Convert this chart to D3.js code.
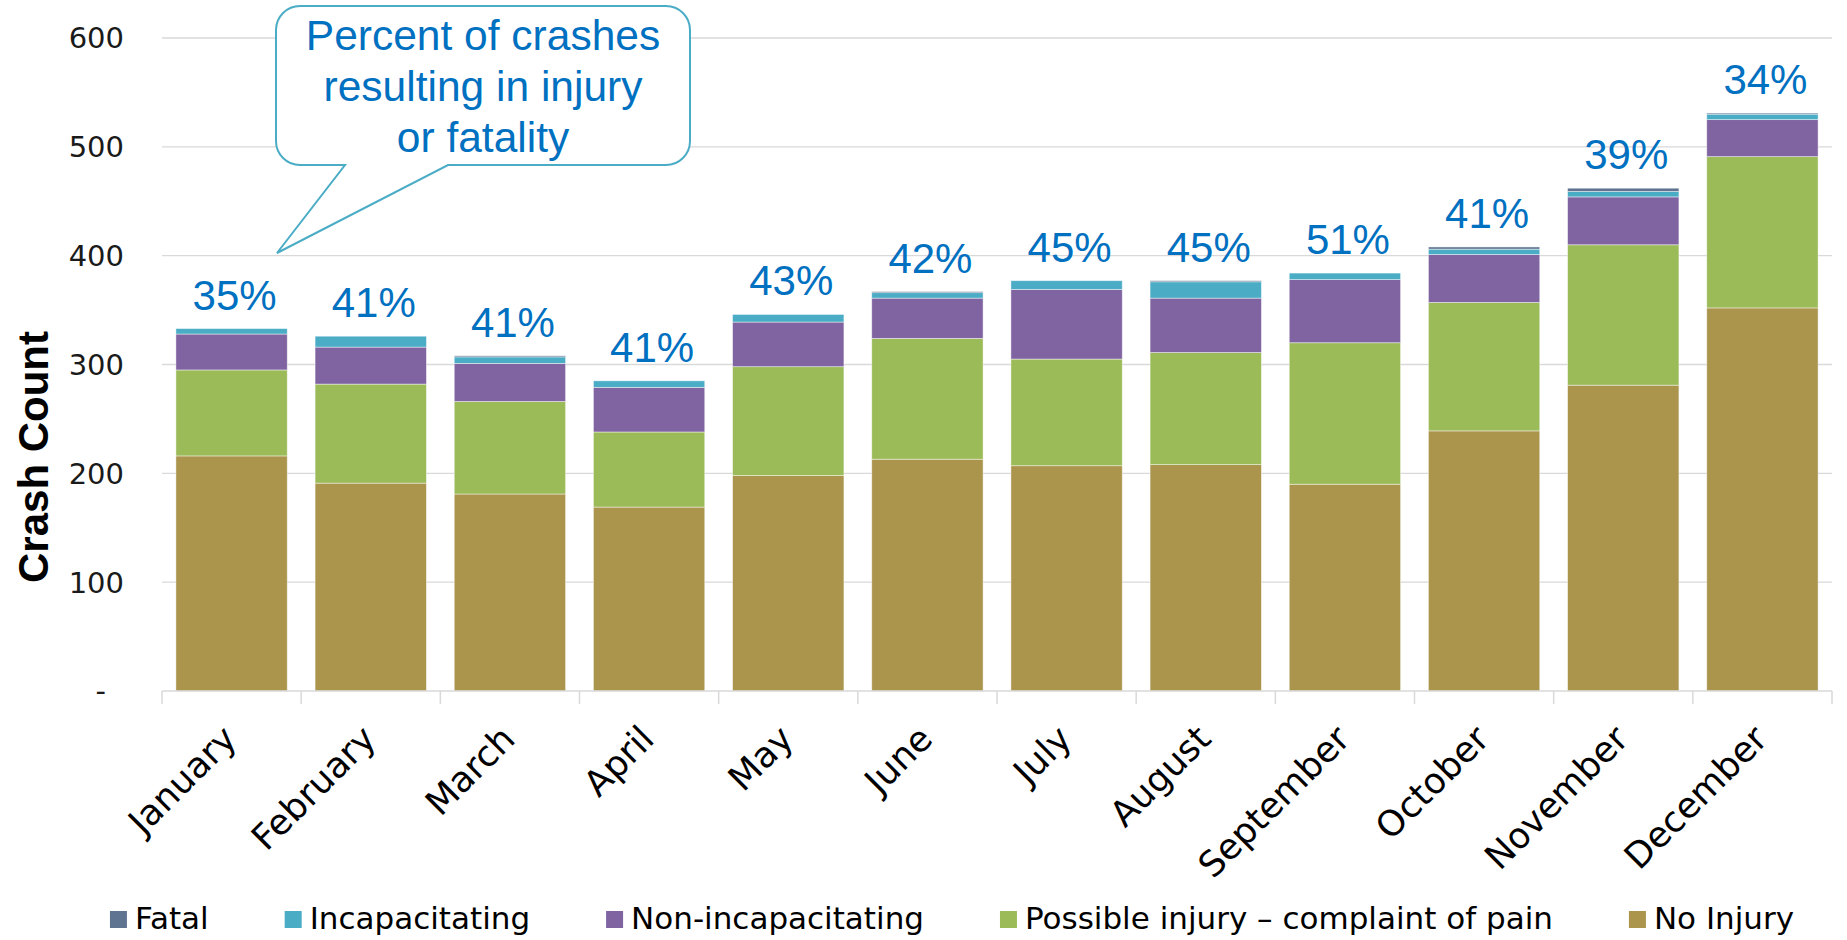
<!DOCTYPE html>
<html>
<head>
<meta charset="utf-8">
<script src="https://cdn.jsdelivr.net/npm/d3@7"></script>
<style>
  html, body { margin: 0; padding: 0; background: #ffffff; }
  svg { display: block; }
</style>
</head>
<body>
<svg id="chart" width="1847" height="940"></svg>
<script>
// Monthly crash counts by severity
const months = ["January", "February", "March", "April", "May", "June",
                "July", "August", "September", "October", "November", "December"];
const fatal             = [0, 0, 1, 0, 0, 1, 0, 1, 0, 2, 3, 1];
const incapacitating    = [5, 10, 6, 6, 7, 5, 8, 15, 6, 5, 5, 5];
const nonIncapacitating = [33, 34, 35, 41, 41, 37, 64, 50, 58, 44, 44, 34];
const possibleInjury    = [79, 91, 85, 69, 100, 111, 98, 103, 130, 118, 129, 139];
const noInjury          = [216, 191, 181, 169, 198, 213, 207, 208, 190, 239, 281, 352];

const yTickValues = [0, 100, 200, 300, 400, 500, 600];
const yTickLabels = ["-", "100", "200", "300", "400", "500", "600"];

const seriesNames = ["Fatal", "Incapacitating", "Non-incapacitating",
                     "Possible injury \u2013 complaint of pain", "No Injury"];
const seriesColors = ["#5E7490", "#4BACC6", "#8064A2", "#9BBB59", "#AB944C"];
const calloutLines = ["Percent of crashes", "resulting in injury", "or fatality"];

// Build a table for stacking: bottom is No Injury, top is Fatal
const keys = ["noInjury", "possibleInjury", "nonIncapacitating", "incapacitating", "fatal"];
const table = months.map((m, i) => ({
  month: m,
  noInjury: noInjury[i],
  possibleInjury: possibleInjury[i],
  nonIncapacitating: nonIncapacitating[i],
  incapacitating: incapacitating[i],
  fatal: fatal[i]
}));
const colorOf = {
  fatal: seriesColors[0], incapacitating: seriesColors[1],
  nonIncapacitating: seriesColors[2], possibleInjury: seriesColors[3], noInjury: seriesColors[4]
};

const svg = d3.select("#chart");
const gothic = "'Century Gothic', 'URW Gothic', 'DejaVu Sans', sans-serif";
const arial = "Arial, 'Liberation Sans', sans-serif";

const plot = { left: 162, right: 1832, top: 38, bottom: 691 };

const x = d3.scaleBand().domain(months)
  .range([plot.left, plot.right]).paddingInner(0.2).paddingOuter(0.1);
const y = d3.scaleLinear().domain([0, 600]).range([plot.bottom, plot.top]);

// Horizontal gridlines
svg.append("g").selectAll("line").data(yTickValues.filter(v => v > 0)).join("line")
  .attr("x1", plot.left).attr("x2", plot.right)
  .attr("y1", d => y(d)).attr("y2", d => y(d))
  .attr("stroke", "#D9D9D9").attr("stroke-width", 1.3);

// Y axis labels
svg.append("g").selectAll("text").data(yTickValues).join("text")
  .attr("x", (d, i) => i === 0 ? 106 : 124)
  .attr("y", d => y(d))
  .attr("dy", "0.36em")
  .attr("text-anchor", "end")
  .attr("font-family", gothic).attr("font-size", 29).attr("fill", "#1a1a1a")
  .text((d, i) => yTickLabels[i]);

// Stacked bars
const stacked = d3.stack().keys(keys)(table);
svg.append("g").selectAll("g").data(stacked).join("g")
  .attr("fill", d => colorOf[d.key])
  .selectAll("rect").data(d => d).join("rect")
  .attr("x", d => x(d.data.month))
  .attr("width", x.bandwidth())
  .attr("y", d => y(d[1]))
  .attr("height", d => Math.max(0, y(d[0]) - y(d[1])))
  .attr("stroke", "#ffffff").attr("stroke-opacity", 0.55).attr("stroke-width", 0.8);

// X axis line and boundary ticks
const step = x.step();
const axisG = svg.append("g").attr("stroke", "#D9D9D9").attr("stroke-width", 1.5);
axisG.append("line").attr("x1", plot.left).attr("x2", plot.right)
  .attr("y1", plot.bottom).attr("y2", plot.bottom);
axisG.selectAll("line.tick").data(d3.range(months.length + 1)).join("line")
  .attr("class", "tick")
  .attr("x1", i => plot.left + i * step).attr("x2", i => plot.left + i * step)
  .attr("y1", plot.bottom).attr("y2", plot.bottom + 13);

// Rotated month labels
svg.append("g").selectAll("text").data(months).join("text")
  .attr("transform", m => `translate(${x(m) + x.bandwidth() / 2 + 7},${plot.bottom + 50}) rotate(-45)`)
  .attr("text-anchor", "end")
  .attr("font-family", gothic).attr("font-size", 35.5).attr("fill", "#000")
  .text(m => m);

// Share of crashes with any injury or fatality, above each bar
const totals = months.map((m, i) => noInjury[i] + possibleInjury[i] + nonIncapacitating[i] + incapacitating[i] + fatal[i]);
const injuryPct = months.map((m, i) => Math.round(100 * (totals[i] - noInjury[i]) / totals[i]));
svg.append("g").selectAll("text").data(months).join("text")
  .attr("x", (m) => x(m) + x.bandwidth() / 2 + 3)
  .attr("y", (m, i) => y(totals[i]) - 19)
  .attr("text-anchor", "middle")
  .attr("font-family", arial).attr("font-size", 42).attr("fill", "#0070C0")
  .text((m, i) => injuryPct[i] + "%");

// Y axis title
svg.append("text")
  .attr("transform", "translate(48,457) rotate(-90)")
  .attr("text-anchor", "middle")
  .attr("font-family", arial).attr("font-weight", "bold").attr("font-size", 42).attr("fill", "#000")
  .text("Crash Count");

// Speech-bubble callout
const cb = { x0: 276, y0: 6, x1: 690, y1: 165, r: 24, baseA: 448, baseB: 345, tipX: 277, tipY: 253 };
const p = d3.path();
p.moveTo(cb.x0 + cb.r, cb.y0);
p.lineTo(cb.x1 - cb.r, cb.y0);
p.arcTo(cb.x1, cb.y0, cb.x1, cb.y0 + cb.r, cb.r);
p.lineTo(cb.x1, cb.y1 - cb.r);
p.arcTo(cb.x1, cb.y1, cb.x1 - cb.r, cb.y1, cb.r);
p.lineTo(cb.baseA, cb.y1);
p.lineTo(cb.tipX, cb.tipY);
p.lineTo(cb.baseB, cb.y1);
p.lineTo(cb.x0 + cb.r, cb.y1);
p.arcTo(cb.x0, cb.y1, cb.x0, cb.y1 - cb.r, cb.r);
p.lineTo(cb.x0, cb.y0 + cb.r);
p.arcTo(cb.x0, cb.y0, cb.x0 + cb.r, cb.y0, cb.r);
p.closePath();
svg.append("path").attr("d", p.toString())
  .attr("fill", "#ffffff").attr("stroke", "#4BACC6").attr("stroke-width", 2);
svg.append("g").selectAll("text").data(calloutLines).join("text")
  .attr("x", (cb.x0 + cb.x1) / 2)
  .attr("y", (d, i) => 50 + i * 51)
  .attr("text-anchor", "middle")
  .attr("font-family", arial).attr("font-size", 42.5).attr("fill", "#0070C0")
  .text(d => d);

// Legend along the bottom
const legend = svg.append("g");
const items = legend.selectAll("g").data(seriesNames).join("g");
items.append("rect").attr("width", 17).attr("height", 17)
  .attr("y", 911).attr("fill", (d, i) => seriesColors[i]);
items.append("text").attr("x", 25).attr("y", 929)
  .attr("font-family", gothic).attr("font-size", 31).attr("fill", "#000")
  .text(d => d);
const gap = 76;
const widths = [];
items.each(function () {
  widths.push(25 + d3.select(this).select("text").node().getComputedTextLength());
});
const totalW = d3.sum(widths) + gap * (widths.length - 1);
let cursor = 952 - totalW / 2;
items.attr("transform", (d, i) => {
  const t = `translate(${cursor},0)`;
  cursor += widths[i] + gap;
  return t;
});
</script>
</body>
</html>
